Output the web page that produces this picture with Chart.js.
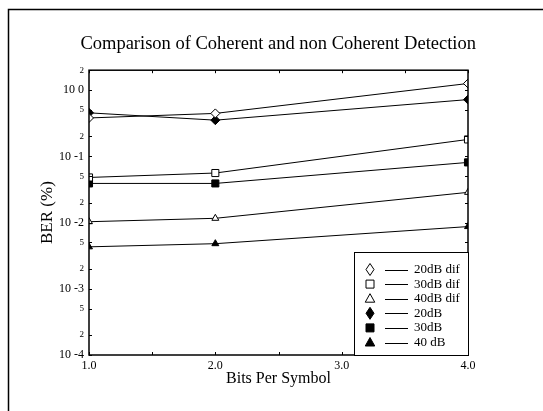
<!DOCTYPE html>
<html>
<head>
<meta charset="utf-8">
<title>Comparison of Coherent and non Coherent Detection</title>
<script src="https://cdn.jsdelivr.net/npm/chart.js@4.4.1/dist/chart.umd.min.js"></script>
<style>
  html, body { margin: 0; padding: 0; background: #fff; }
  #wrap { width: 543px; height: 411px; position: relative; }
</style>
</head>
<body>
<div id="wrap"><canvas id="berChart"></canvas></div>
<script>
// ── Data ─────────────────────────────────────────────
const BITS = [1.0, 2.0, 4.0];
const SERIES_LABELS = ['20dB dif', '30dB dif', '40dB dif', '20dB', '30dB', '40 dB'];
const BER_20_DIF = [0.38, 0.445, 1.26];
const BER_30_DIF = [0.048, 0.056, 0.18];
const BER_40_DIF = [0.0103, 0.0116, 0.0286];
const BER_20 = [0.454, 0.352, 0.72];
const BER_30 = [0.039, 0.039, 0.081];
const BER_40 = [0.0043, 0.0048, 0.0087];

const Y_TICKS = [0.0001, 0.0002, 0.0005, 0.001, 0.002, 0.005, 0.01, 0.02, 0.05, 0.1, 0.2, 0.5, 1, 2];
const Y_TICK_LABELS = ['10 -4', '2', '5', '10 -3', '2', '5', '10 -2', '2', '5', '10 -1', '2', '5', '10 0', '2'];
const X_TICKS = [1.0, 1.5, 2.0, 2.5, 3.0, 3.5, 4.0];
const X_TICK_LABELS = ['1.0', '', '2.0', '', '3.0', '', '4.0'];

const SERIF = "'Liberation Serif', 'Times New Roman', serif";

// ── Estilo das séries ────────────────────────────────
const STYLES = [
  { shape: 'rectRot', fill: false, r: 4.5 },
  { shape: 'rect', fill: false, r: 5 },
  { shape: 'triangle', fill: false, r: 4 },
  { shape: 'rectRot', fill: true, r: 4.5 },
  { shape: 'rect', fill: true, r: 5 },
  { shape: 'triangle', fill: true, r: 4 },
];
const VALUES = [BER_20_DIF, BER_30_DIF, BER_40_DIF, BER_20, BER_30, BER_40];

const datasets = VALUES.map((vals, i) => ({
  label: SERIES_LABELS[i],
  data: vals.map((v, k) => ({ x: BITS[k], y: v })),
  borderColor: '#000',
  borderWidth: 1,
  pointStyle: STYLES[i].shape,
  pointRadius: STYLES[i].r,
  pointBorderWidth: 1,
  pointBorderColor: '#000',
  pointBackgroundColor: STYLES[i].fill ? '#000' : '#fff',
  fill: false,
  tension: 0,
}));

// ── Moldura da página ────────────────────────────────
const pageFrame = {
  id: 'pageFrame',
  beforeDraw(chart) {
    const { ctx, width, height } = chart;
    ctx.save();
    ctx.fillStyle = '#fff';
    ctx.fillRect(0, 0, width, height);
    ctx.strokeStyle = '#000';
    ctx.lineWidth = 1.5;
    ctx.beginPath();
    ctx.moveTo(8.5, height);
    ctx.lineTo(8.5, 9.5);
    ctx.lineTo(width, 9.5);
    ctx.stroke();
    ctx.restore();
  },
};

// ── Caixa do gráfico + ticks internos ────────────────
const boxTicks = {
  id: 'boxTicks',
  afterDatasetsDraw(chart) {
    const { ctx, chartArea: a, scales } = chart;
    ctx.save();
    ctx.strokeStyle = '#000';
    ctx.lineWidth = 1.5;
    ctx.strokeRect(a.left, a.top, a.right - a.left, a.bottom - a.top);
    ctx.lineWidth = 1;
    ctx.beginPath();
    scales.y.ticks.forEach((t, i) => {
      const y = Math.round(scales.y.getPixelForTick(i)) + 0.5;
      ctx.moveTo(a.left, y); ctx.lineTo(a.left + 3, y);
      ctx.moveTo(a.right, y); ctx.lineTo(a.right - 3, y);
    });
    scales.x.ticks.forEach((t, i) => {
      const x = Math.round(scales.x.getPixelForTick(i)) + 0.5;
      ctx.moveTo(x, a.top); ctx.lineTo(x, a.top + 3);
      ctx.moveTo(x, a.bottom); ctx.lineTo(x, a.bottom - 3);
    });
    ctx.stroke();
    ctx.restore();
  },
};

// ── Legenda desenhada dentro da área ────────────────
function drawMarker(ctx, shape, x, y, r) {
  ctx.beginPath();
  if (shape === 'rectRot') {
    ctx.moveTo(x, y - r * 1.2); ctx.lineTo(x + r * 0.8, y);
    ctx.lineTo(x, y + r * 1.2); ctx.lineTo(x - r * 0.8, y);
  } else if (shape === 'rect') {
    ctx.rect(x - r * 0.8, y - r * 0.8, r * 1.6, r * 1.6);
  } else {
    ctx.moveTo(x, y - r); ctx.lineTo(x + r * 0.95, y + r * 0.7);
    ctx.lineTo(x - r * 0.95, y + r * 0.7);
  }
  ctx.closePath();
}

const insideLegend = {
  id: 'insideLegend',
  afterDraw(chart) {
    const { ctx, chartArea: a } = chart;
    const w = 114, h = 103;
    const left = a.right - w, top = a.bottom - h;
    ctx.save();
    ctx.fillStyle = '#fff';
    ctx.fillRect(left, top, w, h);
    ctx.strokeStyle = '#000';
    ctx.lineWidth = 1;
    ctx.strokeRect(left + 0.5, top + 0.5, w, h);
    ctx.font = '13px ' + SERIF;
    ctx.textBaseline = 'middle';
    chart.data.datasets.forEach((ds, i) => {
      const y = top + 17.5 + i * 14.6;
      const st = STYLES[i];
      drawMarker(ctx, st.shape, left + 16, y, 5);
      ctx.fillStyle = st.fill ? '#000' : '#fff';
      ctx.fill();
      ctx.lineWidth = 1;
      ctx.stroke();
      ctx.beginPath();
      ctx.moveTo(left + 31, Math.round(y) + 0.5);
      ctx.lineTo(left + 54, Math.round(y) + 0.5);
      ctx.stroke();
      ctx.fillStyle = '#000';
      ctx.fillText(ds.label, left + 60, y);
    });
    ctx.restore();
  },
};

// ── Gráfico ──────────────────────────────────────────
new Chart(document.getElementById('berChart').getContext('2d'), {
  type: 'line',
  data: { datasets },
  plugins: [pageFrame, boxTicks, insideLegend],
  options: {
    responsive: true,
    maintainAspectRatio: false,
    animation: false,
    layout: { padding: { left: 0, right: 67, top: 0, bottom: 0 } },
    plugins: {
      legend: { display: false },
      tooltip: { enabled: false },
      title: {
        display: true,
        align: 'end',
        text: 'Comparison of Coherent and non Coherent Detection',
        color: '#000',
        font: { family: SERIF, size: 18.5, weight: 'normal' },
        padding: { top: 33, bottom: 15 },
      },
    },
    scales: {
      x: {
        type: 'linear',
        min: 1,
        max: 4,
        afterBuildTicks: (scale) => { scale.ticks = X_TICKS.map((v) => ({ value: v })); },
        afterFit: (scale) => { scale.height = 56; },
        grid: { display: false, drawTicks: false },
        border: { display: false },
        ticks: {
          autoSkip: false,
          maxRotation: 0,
          color: '#000',
          padding: 4,
          font: { family: SERIF, size: 12 },
          callback: (v) => X_TICK_LABELS[X_TICKS.findIndex((t) => Math.abs(t - v) < 1e-6)] ?? '',
        },
        title: {
          display: true,
          text: 'Bits Per Symbol',
          color: '#000',
          font: { family: SERIF, size: 16 },
          padding: { top: 0, bottom: 23 },
        },
      },
      y: {
        type: 'logarithmic',
        min: 0.0001,
        max: 2,
        afterBuildTicks: (scale) => { scale.ticks = Y_TICKS.map((v) => ({ value: v })); },
        afterFit: (scale) => { scale.width = 89; },
        grid: { display: false, drawTicks: false },
        border: { display: false },
        ticks: {
          autoSkip: false,
          color: '#000',
          padding: 5,
          font: (ctx) => {
            const v = ctx.tick ? ctx.tick.value : 1;
            const major = Math.abs(Math.log10(v) - Math.round(Math.log10(v))) < 1e-6;
            return { family: SERIF, size: major ? 12 : 9 };
          },
          callback: (v) => {
            const i = Y_TICKS.findIndex((t) => Math.abs(t - v) / t < 1e-6);
            return i >= 0 ? Y_TICK_LABELS[i] : '';
          },
        },
        title: {
          display: true,
          text: 'BER (%)',
          color: '#000',
          font: { family: SERIF, size: 17 },
          padding: { top: 37, bottom: 0 },
        },
      },
      // eixo vazio à direita, só para reservar espaço
      yRight: {
        type: 'linear',
        position: 'right',
        display: true,
        afterFit: (scale) => { scale.width = 8; },
        grid: { display: false, drawTicks: false },
        border: { display: false },
        ticks: { display: false },
      },
    },
  },
});
</script>
</body>
</html>
